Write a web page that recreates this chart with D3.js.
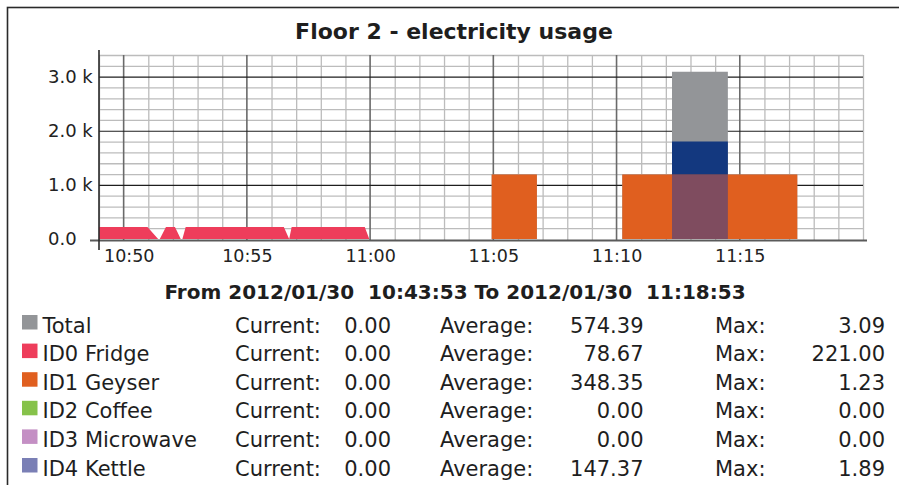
<!DOCTYPE html>
<html>
<head>
<meta charset="utf-8">
<script src="https://cdn.jsdelivr.net/npm/d3@7"></script>
<style>
  html, body { margin: 0; padding: 0; background: #fff; }
  svg { display: block; font-family: "DejaVu Sans", sans-serif; }
</style>
</head>
<body>
<svg id="chart" width="899" height="485"></svg>
<script>
// ---- data -------------------------------------------------------------
const day = "2012-01-30";
const chartTitle = "Floor 2 - electricity usage";
const rangeText = "From 2012/01/30  10:43:53 To 2012/01/30  11:18:53";

const xStart = "10:49:00";
const xEnd = "11:20:00";

const yTickValues = [0, 1000, 2000, 3000];
const yTickLabels = ["0.0", "1.0 k", "2.0 k", "3.0 k"];
const xTickLabels = ["10:50", "10:55", "11:00", "11:05", "11:10", "11:15"];

// fridge: sampled points, drawn as a linear area
const fridgeTimes = ["10:49:00", "10:50:58", "10:51:24", "10:51:28", "10:51:43", "10:52:05", "10:52:19",
                     "10:52:23", "10:52:31", "10:56:30", "10:56:43", "10:56:49", "10:59:47", "10:59:58"];
const fridgeValues = [221, 221, 0, 0, 221, 221, 0,
                      0, 221, 221, 0, 221, 221, 0];

// step series (value holds until the next time)
const geyserTimes = ["11:04:56", "11:06:46", "11:10:14", "11:17:20"];
const geyserValues = [1190, 0, 1190, 0];

const kettleTimes = ["11:12:15", "11:14:31"];
const kettleValues = [1800, 0];

const totalTimes = ["11:04:56", "11:06:46", "11:10:14", "11:12:15", "11:14:31", "11:17:20"];
const totalValues = [1190, 0, 1190, 3090, 1190, 0];

// legend table
const legendNames = ["Total", "ID0 Fridge", "ID1 Geyser", "ID2 Coffee", "ID3 Microwave", "ID4 Kettle"];
const legendColors = ["#939598", "#ee3d5b", "#e05f1f", "#86c24a", "#c48fc4", "#7a7fb5"];
const currentValues = ["0.00", "0.00", "0.00", "0.00", "0.00", "0.00"];
const averageValues = ["574.39", "78.67", "348.35", "0.00", "0.00", "147.37"];
const maxValues = ["3.09", "221.00", "1.23", "0.00", "0.00", "1.89"];

// ---- setup ------------------------------------------------------------
const parseT = t => new Date(`${day}T${t}`);
const svg = d3.select("#chart");
const W = 899, H = 485;
const plot = { left: 99, right: 863, top: 55, bottom: 239 };
const FONT = "'DejaVu Sans', sans-serif";

const x = d3.scaleTime().domain([parseT(xStart), parseT(xEnd)]).range([plot.left, plot.right]);
const y = d3.scaleLinear().domain([0, 3400]).range([plot.bottom, plot.top]);

svg.append("rect").attr("width", W).attr("height", H).attr("fill", "#fff");

// outer frame (continues past the right and bottom edges)
svg.append("rect").attr("x", 7.5).attr("y", 7.5).attr("width", W + 10).attr("height", H + 10)
  .attr("fill", "none").attr("stroke", "#2a2a2a").attr("stroke-width", 1.6);

// ---- grid -------------------------------------------------------------
const grid = svg.append("g");
const minuteTicks = x.ticks(d3.timeMinute.every(1));
const majorTimes = xTickLabels.map(parseT);
const isMajor = d => majorTimes.some(m => +m === +d);

grid.selectAll("line.vmin").data(minuteTicks.filter(d => !isMajor(d))).join("line")
  .attr("x1", d => x(d) + 0.5).attr("x2", d => x(d) + 0.5)
  .attr("y1", y(3400)).attr("y2", y(0) + 1)
  .attr("stroke", "#bcbcbc").attr("stroke-width", 1.3);

const minorY = d3.range(200, 3401, 200).filter(v => v % 1000 !== 0);
grid.selectAll("line.hmin").data(minorY).join("line")
  .attr("x1", plot.left).attr("x2", plot.right)
  .attr("y1", d => y(d) + 0.5).attr("y2", d => y(d) + 0.5)
  .attr("stroke", "#bcbcbc").attr("stroke-width", 1.3);

grid.selectAll("line.vmaj").data(majorTimes).join("line")
  .attr("x1", d => x(d)).attr("x2", d => x(d))
  .attr("y1", y(3400)).attr("y2", y(0) + 1)
  .attr("stroke", "#6a6a6a").attr("stroke-width", 1.6);

grid.selectAll("line.hmaj").data(yTickValues.filter(v => v > 0)).join("line")
  .attr("x1", plot.left).attr("x2", plot.right)
  .attr("y1", d => y(d) + 0.5).attr("y2", d => y(d) + 0.5)
  .attr("stroke", "#1e1e1e").attr("stroke-width", 1.2);

// ---- series -----------------------------------------------------------
const stepArea = d3.area().curve(d3.curveStepAfter)
  .x(d => x(d.t)).y0(y(0)).y1(d => y(d.v));
const linArea = d3.area().curve(d3.curveLinear)
  .x(d => x(d.t)).y0(y(0)).y1(d => y(d.v));
const zip = (ts, vs) => ts.map((t, i) => ({ t: parseT(t), v: vs[i] }));

const total = zip(totalTimes, totalValues);
const geyser = zip(geyserTimes, geyserValues);
const kettle = zip(kettleTimes, kettleValues);
const fridge = zip(fridgeTimes, fridgeValues);

const marks = svg.append("g");
marks.append("path").attr("d", stepArea(total)).attr("fill", "#939598");
marks.append("path").attr("d", stepArea(kettle)).attr("fill", "#13387f");
marks.append("path").attr("d", stepArea(geyser)).attr("fill", "#e05f1f");

// where the kettle runs under the geyser, the two colours mix
svg.append("defs").append("clipPath").attr("id", "geyserClip")
  .append("path").attr("d", stepArea(geyser));
marks.append("path").attr("d", stepArea(kettle)).attr("fill", "#1e3aa0")
  .attr("opacity", 0.5).attr("clip-path", "url(#geyserClip)");

marks.append("path").attr("d", linArea(fridge)).attr("fill", "#ee3d5b");

// ---- axes -------------------------------------------------------------
const axisG = svg.append("g");
axisG.append("line")
  .attr("x1", plot.left - 9).attr("x2", plot.right + 4)
  .attr("y1", y(0) + 1.5).attr("y2", y(0) + 1.5)
  .attr("stroke", "#5a5a5a").attr("stroke-width", 2);
axisG.append("line")
  .attr("x1", plot.left).attr("x2", plot.left)
  .attr("y1", plot.top - 5).attr("y2", y(0) + 11)
  .attr("stroke", "#2a2a2a").attr("stroke-width", 1.6);

// y labels share a common left edge (the unit slot is blank for zero)
const yAxis = d3.axisLeft(y).tickValues(yTickValues)
  .tickFormat((d, i) => yTickLabels[i]).tickSize(0).tickPadding(51);
const yg = svg.append("g").attr("transform", `translate(${plot.left},0)`).call(yAxis);
yg.select(".domain").remove();
yg.selectAll("text").attr("font-size", 18).attr("fill", "#222")
  .attr("font-family", FONT).attr("text-anchor", "start");

const xAxis = d3.axisBottom(x).tickValues(majorTimes)
  .tickFormat((d, i) => xTickLabels[i]).tickSize(0).tickPadding(11);
const xg = svg.append("g").attr("transform", `translate(0,${y(0)})`).call(xAxis);
xg.select(".domain").remove();
xg.selectAll("text").attr("font-size", 17.5).attr("fill", "#222")
  .attr("font-family", FONT);
// keep the first label clear of the vertical axis
xg.selectAll("text").each(function () {
  const b = this.getBBox();
  const tx = +this.parentNode.getAttribute("transform").match(/translate\(([-\d.]+)/)[1];
  const left = tx + b.x;
  if (left < plot.left + 5) d3.select(this).attr("dx", plot.left + 5 - left);
});

// ---- titles -----------------------------------------------------------
svg.append("text").attr("x", 454).attr("y", 39).attr("text-anchor", "middle")
  .attr("font-size", 22).attr("font-weight", "bold").attr("fill", "#1e1e1e")
  .text(chartTitle);

svg.append("text").attr("x", 455).attr("y", 298.5).attr("text-anchor", "middle")
  .attr("font-size", 20).attr("font-weight", "bold").attr("fill", "#1e1e1e")
  .style("white-space", "pre").text(rangeText);

// ---- legend -----------------------------------------------------------
const rowY = i => 332.5 + i * 28.6;
const leg = svg.append("g").attr("font-size", 21).attr("fill", "#1e1e1e");
const rows = leg.selectAll("g").data(legendNames).join("g");
rows.append("rect").attr("x", 22).attr("y", (d, i) => rowY(i) - 17.5)
  .attr("width", 15.5).attr("height", 14.5).attr("fill", (d, i) => legendColors[i]);
rows.append("text").attr("x", 42.5).attr("y", (d, i) => rowY(i)).text(d => d);
rows.append("text").attr("x", 235).attr("y", (d, i) => rowY(i)).text("Current:");
rows.append("text").attr("x", 391).attr("y", (d, i) => rowY(i)).attr("text-anchor", "end")
  .text((d, i) => currentValues[i]);
rows.append("text").attr("x", 440).attr("y", (d, i) => rowY(i)).text("Average:");
rows.append("text").attr("x", 643.5).attr("y", (d, i) => rowY(i)).attr("text-anchor", "end")
  .text((d, i) => averageValues[i]);
rows.append("text").attr("x", 715).attr("y", (d, i) => rowY(i)).text("Max:");
rows.append("text").attr("x", 885).attr("y", (d, i) => rowY(i)).attr("text-anchor", "end")
  .text((d, i) => maxValues[i]);
</script>
</body>
</html>
